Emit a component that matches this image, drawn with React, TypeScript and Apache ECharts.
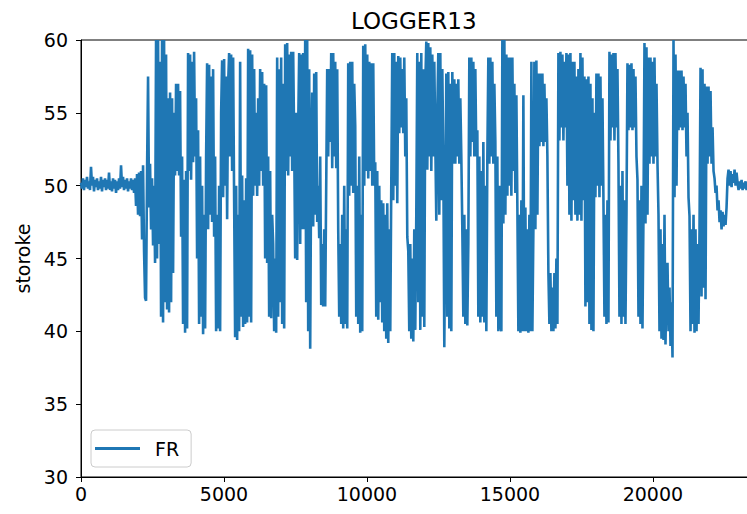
import React, { useEffect, useRef } from "react";
import * as echarts from "echarts";

// one reading per ~35 samples
const SAMPLE_STEP = 35;

const frLead = [
  50.2, 49.8, 50.5, 49.7, 50.4, 49.9, 50.6, 49.8, 50.3, 49.7,
  51.3, 50.0, 50.6, 49.6, 50.4, 49.9, 50.5, 49.7, 50.3, 49.8,
  50.6, 49.6, 50.4, 49.9, 50.5, 49.7, 50.4, 49.8, 50.9, 49.7,
  50.3, 49.6, 50.5, 49.8, 50.4, 49.5, 50.3, 49.7, 50.5, 49.8,
  51.4, 49.9, 50.6, 49.7, 50.4, 49.8, 50.5, 49.6, 50.3, 49.8,
  50.5, 49.7, 50.4, 49.5,
];

const frRise = [
  50.5, 48.6, 50.8, 48.0, 50.9, 47.9,
  51.0, 46.3, 51.4, 45.5, 42.3, 42.1, 51.0, 57.5, 48.5, 51.5,
  47.0, 50.5, 45.9, 50.0, 44.7, 60.0, 45.0, 60.0, 46.0, 58.5,
  41.0, 60.0, 40.6, 60.0, 42.0, 59.0, 41.5, 56.0, 41.3, 56.4,
  42.0, 56.0, 44.0, 55.0, 50.7, 57.0, 51.0, 57.0, 50.7, 56.5,
  46.5, 52.0, 40.5, 50.4, 39.9, 51.0, 40.2, 59.1, 51.0, 59.0,
  50.4, 58.5, 51.6, 59.2, 52.0, 56.0, 45.0, 53.8, 40.5, 52.0,
  41.0, 50.0, 39.8, 48.0, 40.2, 52.0, 58.4, 47.0, 58.3, 48.0,
  57.5, 47.5, 58.0, 46.5, 52.0, 40.0, 48.0, 40.2, 50.0, 40.0,
  55.0, 58.6, 49.2, 58.7, 50.0, 57.5, 47.7, 57.0, 59.1, 52.0,
  59.0, 51.0, 58.8, 49.0, 39.6, 50.0, 39.4, 48.0, 40.0, 58.5,
  41.0, 50.7, 40.3, 49.0, 40.5, 50.5, 40.6, 59.4, 41.0, 59.3,
];

const frMiddle = [
  40.6, 59.0, 49.3, 58.0, 50.0, 55.0, 49.3, 56.0, 50.0, 58.0,
  51.0, 57.8, 50.0, 57.0, 45.0, 56.9, 44.7, 52.0, 41.0, 51.0,
  40.9, 48.0, 46.0, 40.0, 45.0, 39.9, 58.8, 41.0, 58.0, 42.0,
  58.8, 40.5, 57.0, 40.2, 59.7, 51.0, 59.8, 50.7, 59.0, 52.0,
  59.2, 51.0, 59.2, 53.0, 45.0, 55.0, 44.9, 54.0, 59.1, 46.0,
  59.0, 47.0, 59.1, 47.0, 60.0, 42.0, 60.0, 40.0, 58.0, 38.8,
  52.0, 56.4, 47.2, 57.7, 48.0, 57.8, 47.5, 50.0, 46.4, 52.0,
  41.8, 46.0, 41.7, 47.0, 41.7, 50.0, 58.0, 52.0, 58.0, 53.0,
  59.1, 51.2, 59.1, 52.0, 58.5, 51.2, 58.0, 47.0, 41.0, 46.0,
  40.5, 48.0, 40.2, 50.0, 40.5, 47.0, 40.2, 58.4, 49.3, 58.5,
  50.0, 58.5, 49.5, 57.0, 54.1, 41.0, 50.0, 40.5, 52.0, 39.9,
  48.0, 40.0, 59.6, 50.0, 59.7, 51.0, 59.0, 50.5, 58.5, 51.0,
  58.4, 50.0, 58.4, 50.0, 51.6, 41.0, 51.0, 40.8, 50.0, 42.0,
  49.0, 40.6, 48.8, 40.0, 48.0, 39.5, 48.8, 39.2, 47.0, 40.0,
  50.0, 59.1, 49.0, 59.1, 50.0, 58.5, 48.8, 58.9, 53.6, 58.8,
  54.0, 58.0, 53.6, 58.8, 52.0, 56.0, 46.5, 45.5, 40.0, 46.0,
  39.5, 45.0, 39.3, 47.0, 40.1, 48.0, 59.1, 42.0, 58.5, 40.1,
  59.1, 41.0, 58.0, 40.3, 57.0, 59.9, 51.1, 59.8, 52.0, 59.5,
  51.0, 59.0, 52.0, 58.5, 53.0, 47.6, 55.0, 59.1, 48.0, 59.1,
  49.0, 58.0, 52.0, 38.9, 48.0, 57.7, 41.0, 57.8, 40.2, 57.0,
  40.0, 57.8, 51.5, 57.3, 51.5, 57.0, 52.0, 57.3, 51.5, 56.0,
  52.0, 47.0, 41.0, 48.0, 40.5, 47.0, 40.4, 46.0, 58.8, 52.0,
  58.8, 53.0, 58.5, 52.0, 58.0, 52.0, 53.8, 41.0, 52.0, 40.6,
  51.0, 41.0, 53.0, 40.6, 50.0, 40.0, 52.0, 58.8, 51.5, 58.8,
  52.0, 58.5, 51.5, 57.0, 53.0, 41.0, 52.0, 40.0, 50.0, 40.5,
];

const frLate = [
  40.0, 60.0, 47.4, 60.0, 48.0, 59.0, 49.3, 58.8, 50.0, 58.8,
  49.3, 58.8, 51.0, 57.0, 49.5, 56.2, 48.5, 40.0, 48.0, 39.9,
  49.0, 40.0, 56.2, 40.0, 48.5, 40.0, 47.0, 39.9, 48.0, 40.0,
  58.5, 40.0, 47.0, 58.5, 47.0, 58.6, 48.0, 57.7, 52.7, 57.7,
  53.0, 57.7, 52.7, 57.0, 53.0, 56.0, 52.0, 44.0, 40.5, 44.0,
  40.0, 43.0, 40.0, 44.0, 40.2, 45.0, 40.5, 59.1, 53.1, 59.2,
  54.0, 59.0, 53.1, 58.5, 54.0, 59.1, 50.0, 59.0, 48.0, 59.1,
  47.6, 58.5, 49.0, 58.5, 48.0, 57.5, 47.6, 58.0, 48.0, 59.1,
  47.6, 58.8, 49.0, 57.5, 41.7, 57.3, 42.0, 57.5, 40.5, 57.0,
  40.1, 56.0, 40.0, 55.0, 49.2, 57.7, 50.0, 57.7, 49.2, 57.5,
  50.0, 56.0, 49.0, 41.0, 48.0, 40.5, 49.0, 40.6, 59.2, 53.1,
  59.0, 54.0, 59.1, 53.1, 59.1, 54.0, 58.0, 51.5, 41.0, 50.0,
  40.5, 51.0, 41.0, 49.0, 40.5, 48.0, 58.4, 53.8, 58.3, 54.0,
  58.4, 53.8, 58.0, 54.0, 57.5, 52.0, 50.4, 41.0, 49.0, 40.5,
  50.0, 40.2, 48.0, 59.8, 47.4, 59.5, 48.0, 58.8, 51.5, 58.8,
  52.0, 58.5, 51.5, 58.8, 52.0, 57.0, 51.5, 48.0, 40.0, 47.0,
  39.5, 46.0, 39.4, 48.0, 39.1, 44.0, 44.7, 40.0, 43.0, 39.0,
  42.0, 38.2, 60.0, 49.2, 59.0, 50.0, 57.9, 53.8, 57.9, 54.0,
  57.9, 53.8, 57.5, 54.0, 57.0, 52.0, 55.0, 49.2, 47.9, 40.0,
  47.0, 40.5, 48.0, 39.9, 47.0, 40.0, 46.0, 40.5, 47.0, 58.1,
  42.4, 58.0, 43.0, 57.0, 42.2, 56.8, 51.5, 56.8, 52.0, 56.5,
  51.5, 54.0, 51.0,
];

const frTail = [
  50.5, 49.5, 50.0, 48.3, 49.0, 47.5, 48.3,
  47.0, 48.2, 47.2, 48.0, 47.3, 48.5, 50.5, 51.1, 50.0, 51.0,
  49.9, 50.8, 50.2, 51.1, 50.0, 50.9, 50.2, 49.7, 50.3, 49.8,
  50.4, 49.7, 50.2, 49.8, 50.3, 49.7, 50.1,
];

const frValues = [...frLead, ...frRise, ...frMiddle, ...frLate, ...frTail];

const xTickValues = [0, 5000, 10000, 15000, 20000];
const yMin = 30;
const yMax = 60;
const yStep = 5;
const xMax = 23500;

const FONT = "DejaVu Sans";

export default function App() {
  const ref = useRef<HTMLDivElement>(null);

  useEffect(() => {
    if (!ref.current) return;
    const chart = echarts.init(ref.current, null, { renderer: "svg" });
    const data = frValues.map((v, i) => [i * SAMPLE_STEP, v]);

    chart.setOption({
      animation: false,
      backgroundColor: "#ffffff",
      title: {
        text: "LOGGER13",
        left: 351,
        top: 9,
        padding: 0,
        textStyle: {
          fontFamily: FONT,
          fontSize: 23,
          fontWeight: "normal",
          color: "#000",
        },
      },
      legend: {
        left: 91,
        top: 430,
        orient: "vertical",
        data: [{ name: "FR", icon: "rect" }],
        itemWidth: 45,
        itemHeight: 3,
        padding: [9, 12, 9, 4],
        backgroundColor: "rgba(255,255,255,0.8)",
        borderColor: "#cccccc",
        borderWidth: 1,
        borderRadius: 4,
        textStyle: {
          fontFamily: FONT,
          fontSize: 19,
          color: "#000",
          padding: [0, 0, 0, 10],
        },
      },
      grid: {
        left: 81,
        top: 40,
        width: 672,
        bottom: 37,
        outerBoundsMode: "none",
        containLabel: false,
        show: true,
        borderColor: "#000",
        borderWidth: 1,
        backgroundColor: "transparent",
      },
      xAxis: {
        type: "value",
        min: 0,
        max: xMax,
        interval: 5000,
        axisLine: { show: true, lineStyle: { color: "#000", width: 1 } },
        axisTick: { show: true, length: 5, lineStyle: { color: "#000" } },
        splitLine: { show: false },
        axisLabel: {
          margin: 7,
          fontFamily: FONT,
          fontSize: 19,
          color: "#000",
          formatter: (v: number) => (xTickValues.includes(v) ? String(v) : ""),
        },
      },
      yAxis: {
        type: "value",
        min: yMin,
        max: yMax,
        interval: yStep,
        name: "storoke",
        nameLocation: "middle",
        nameRotate: 90,
        nameGap: 46,
        nameTextStyle: { fontFamily: FONT, fontSize: 19, color: "#000" },
        axisLine: { show: true, lineStyle: { color: "#000", width: 1 } },
        axisTick: { show: true, length: 5, lineStyle: { color: "#000" } },
        splitLine: { show: false },
        axisLabel: {
          margin: 13,
          fontFamily: FONT,
          fontSize: 19,
          color: "#000",
        },
      },
      series: [
        {
          name: "FR",
          type: "line",
          data,
          symbol: "none",
          showSymbol: false,
          clip: true,
          silent: true,
          color: "#1f77b4",
          lineStyle: { color: "#1f77b4", width: 2.6 },
        },
      ],
    });

    return () => chart.dispose();
  }, []);

  return (
    <div
      ref={ref}
      style={{
        position: "absolute",
        left: 0,
        top: 0,
        width: 747,
        height: 514,
        background: "#fff",
      }}
    />
  );
}
